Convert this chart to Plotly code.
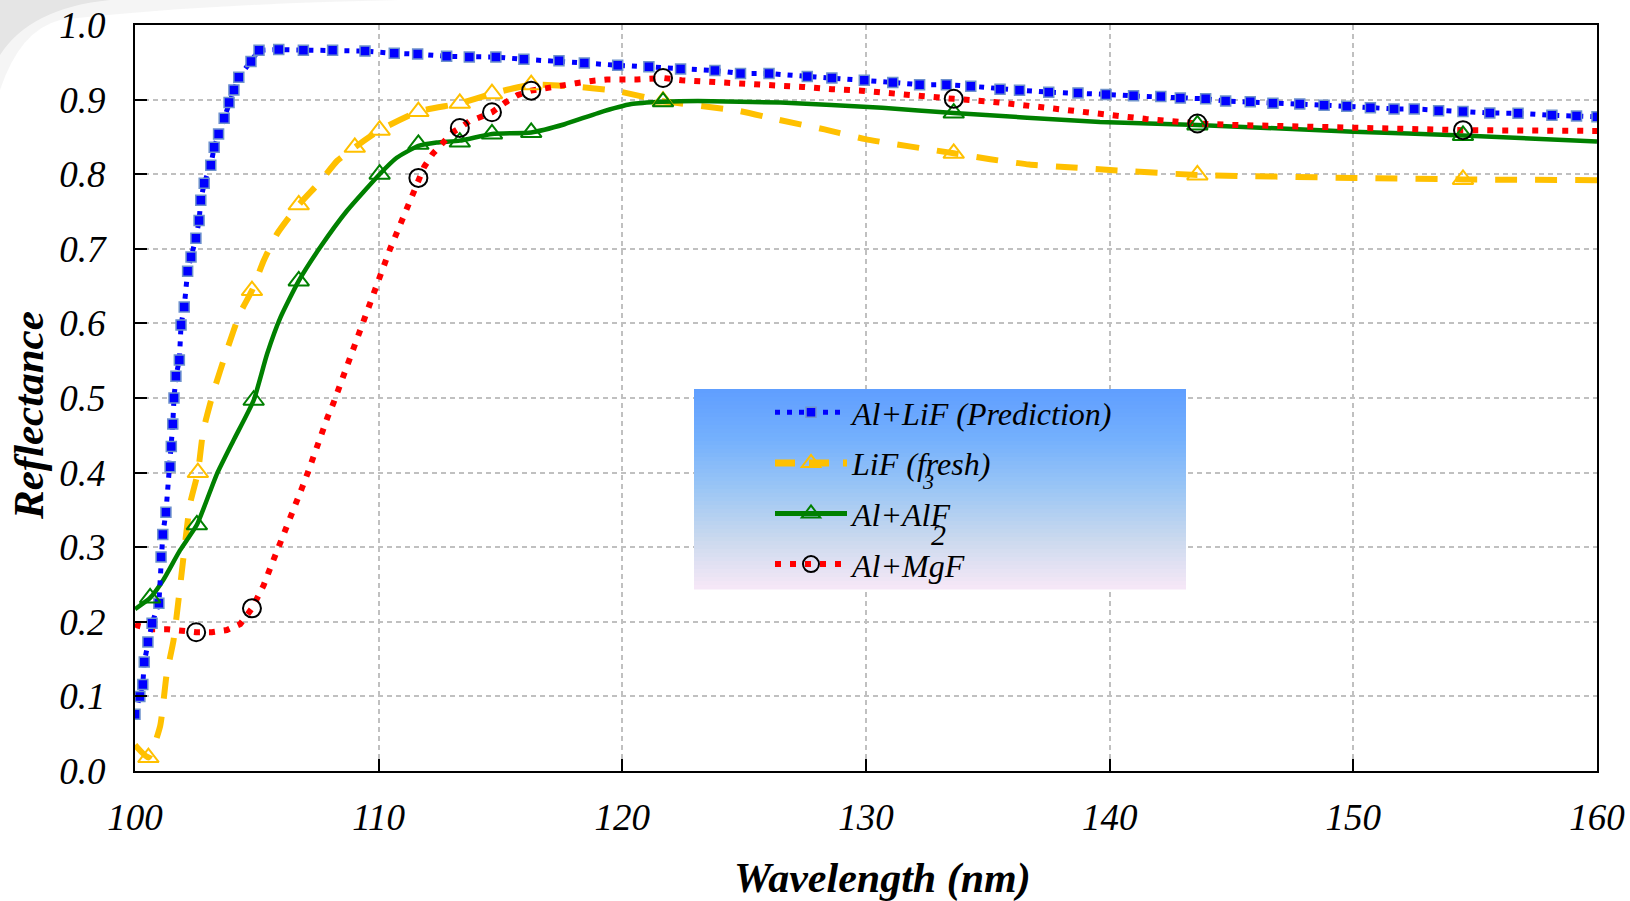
import plotly.graph_objects as go

# ---------------- data ----------------
pred_x = [100.0, 100.2, 100.32, 100.38, 100.53, 100.70, 100.98, 101.07, 101.14, 101.27, 101.44, 101.49,
          101.55, 101.60, 101.68, 101.82, 101.89, 102.02, 102.16, 102.30, 102.50, 102.63, 102.70, 102.84,
          103.11, 103.25, 103.43, 103.66, 103.86, 104.06, 104.26, 104.76, 105.09, 105.90, 106.91, 108.11,
          109.44, 110.64, 111.60, 112.79, 113.72, 114.81, 115.96, 117.40, 118.44, 119.81, 121.09, 122.39,
          123.80, 124.85, 126.02, 127.59, 128.60, 129.93, 131.1, 132.2, 133.3, 134.3, 135.5, 136.3, 137.5,
          138.7, 139.85, 140.98, 142.1, 142.9, 143.94, 144.76, 145.77, 146.7, 147.8, 148.8, 149.73, 150.7,
          151.67, 152.5, 153.5, 154.5, 155.6, 156.76, 158.15, 159.16, 160.0]
pred_y = [0.076, 0.100, 0.116, 0.146, 0.173, 0.198, 0.225, 0.287, 0.317, 0.347, 0.408, 0.435,
          0.465, 0.500, 0.529, 0.551, 0.598, 0.622, 0.670, 0.689, 0.714, 0.738, 0.765, 0.788,
          0.812, 0.836, 0.854, 0.875, 0.896, 0.913, 0.930, 0.951, 0.966, 0.967, 0.966, 0.966,
          0.965, 0.962, 0.961, 0.958, 0.957, 0.957, 0.954, 0.952, 0.949, 0.946, 0.944, 0.941,
          0.939, 0.935, 0.935, 0.931, 0.929, 0.926, 0.923, 0.920, 0.920, 0.918, 0.914, 0.9125, 0.910,
          0.909, 0.907, 0.905, 0.904, 0.902, 0.901, 0.898, 0.897, 0.895, 0.894, 0.8925, 0.891, 0.889,
          0.8875, 0.8875, 0.885, 0.884, 0.882, 0.8817, 0.879, 0.878, 0.877]

lif_x = [100.0, 100.55, 101.03, 101.3, 101.58, 101.85, 102.26, 102.58, 102.8, 103.2, 103.77, 104.3,
         104.8, 105.28, 105.83, 106.72, 107.6, 108.3, 109.02, 110.04, 111.63, 113.33, 114.65, 116.26,
         117.8, 119.7, 121.67, 124.76, 126.4, 128.3, 129.97, 133.6, 135.1, 136.7, 138.5, 140.3, 143.6,
         150.0, 154.5, 160.0]
lif_y = [0.035, 0.018, 0.060, 0.130, 0.175, 0.247, 0.358, 0.400, 0.456, 0.506, 0.564, 0.613,
         0.644, 0.684, 0.720, 0.759, 0.790, 0.818, 0.836, 0.859, 0.884, 0.895, 0.908, 0.920,
         0.918, 0.912, 0.898, 0.885, 0.873, 0.860, 0.847, 0.828, 0.820, 0.813, 0.809, 0.805, 0.799,
         0.795, 0.793, 0.792]
lif_mx = [100.55, 102.58, 104.8, 106.72, 109.02, 110.04, 111.63, 113.33, 114.65, 116.26, 121.67, 133.6, 143.6, 154.5]
lif_my = [0.018, 0.400, 0.644, 0.759, 0.836, 0.859, 0.884, 0.895, 0.908, 0.920, 0.898, 0.828, 0.799, 0.793]

alf_x = [100.0, 100.62, 101.16, 101.85, 102.54, 103.36, 104.04, 104.87, 105.42, 105.97, 106.72, 107.6,
         108.7, 110.04, 110.74, 111.63, 112.38, 113.33, 114.65, 116.26, 117.63, 119.0, 120.37, 121.67,
         123.1, 126.5, 130.66, 133.6, 139.6, 143.6, 150.0, 154.5, 160.0]
alf_y = [0.217, 0.232, 0.256, 0.296, 0.330, 0.398, 0.443, 0.497, 0.559, 0.608, 0.657, 0.702,
         0.751, 0.800, 0.822, 0.838, 0.8425, 0.845, 0.854, 0.856, 0.867, 0.882, 0.894, 0.897,
         0.898, 0.896, 0.889, 0.882, 0.870, 0.866, 0.857, 0.852, 0.844]
alf_mx = [100.62, 102.54, 104.87, 106.72, 110.04, 111.63, 113.33, 114.65, 116.26, 121.67, 133.6, 143.6, 154.5]
alf_my = [0.232, 0.330, 0.497, 0.657, 0.800, 0.840, 0.843, 0.854, 0.856, 0.897, 0.882, 0.866, 0.852]

mgf_x = [100.0, 100.1, 100.71, 101.34, 102.51, 103.15, 103.77, 104.32, 104.8, 105.0, 105.28, 105.49,
         105.73, 105.97, 106.17, 106.41, 106.63, 106.86, 107.07, 107.27, 107.5, 107.68, 107.9, 108.13,
         108.34, 108.55, 108.78, 108.98, 109.19, 109.42, 109.63, 109.84, 110.04, 110.26, 110.47, 110.7,
         110.93, 111.15, 111.39, 111.63, 111.87, 112.21, 112.62, 113.03, 113.33, 113.72, 114.13, 114.65,
         115.19, 115.7, 116.26, 116.9, 117.5, 118.1, 118.75, 119.37, 120.6, 121.67, 122.43, 123.7,
         124.9, 126.1, 127.4, 128.6, 129.8, 133.6, 135.2, 137.7, 140.1, 141.5, 143.6, 145.1, 154.5, 160.0]
mgf_y = [0.197, 0.195, 0.190, 0.190, 0.186, 0.186, 0.189, 0.197, 0.218, 0.230, 0.249, 0.267,
         0.286, 0.305, 0.323, 0.341, 0.360, 0.380, 0.398, 0.417, 0.435, 0.456, 0.474, 0.492,
         0.511, 0.530, 0.549, 0.568, 0.587, 0.606, 0.625, 0.643, 0.662, 0.680, 0.700, 0.718,
         0.736, 0.755, 0.774, 0.795, 0.810, 0.827, 0.843, 0.856, 0.862, 0.871, 0.876, 0.883,
         0.896, 0.906, 0.912, 0.916, 0.919, 0.922, 0.925, 0.927, 0.927, 0.929, 0.926, 0.924,
         0.922, 0.920, 0.917, 0.914, 0.912, 0.901, 0.897, 0.888, 0.879, 0.874, 0.868, 0.866, 0.859, 0.858]
mgf_mx = [102.51, 104.8, 111.63, 113.33, 114.65, 116.26, 121.67, 133.6, 143.6, 154.5]
mgf_my = [0.186, 0.218, 0.795, 0.862, 0.883, 0.912, 0.929, 0.901, 0.868, 0.859]

x_ticks = [100, 110, 120, 130, 140, 150, 160]
y_ticks = [0.0, 0.1, 0.2, 0.3, 0.4, 0.5, 0.6, 0.7, 0.8, 0.9, 1.0]

names = ["Al+LiF (Prediction)", "LiF (fresh)", "Al+AlF", "Al+MgF"]

# ---------------- styles ----------------
BLUE, GOLD, GREEN, RED = "#0000FF", "#FFC000", "#008000", "#FF0000"
SERIF = "Liberation Serif"
W, H = 1630, 901
L, R, T, B = 135, 33, 25, 130


def pxx(px):
    return (px - L) / (W - L - R)


def pxy(py):
    return (H - B - py) / (H - T - B)


fig = go.Figure()

blue_line = dict(color=BLUE, width=5, dash="5px,7px")
blue_marker = dict(symbol="square", size=10, color=BLUE, line=dict(color="#6F93CC", width=1.5))
gold_line = dict(color=GOLD, width=6, dash="22px,18px", shape="spline", smoothing=0.5)
gold_marker = dict(symbol="triangle-up-open", size=18, color=GOLD, line=dict(color=GOLD, width=2))
green_line = dict(color=GREEN, width=4.5, shape="spline", smoothing=0.5)
green_marker = dict(symbol="triangle-up-open", size=18, color=GREEN, line=dict(color=GREEN, width=2))
red_line = dict(color=RED, width=6, dash="6px,9px")
red_marker = dict(symbol="circle-open", size=18, color="black", line=dict(color="black", width=2))

# lines
fig.add_trace(go.Scatter(x=lif_x, y=lif_y, mode="lines", line=gold_line, showlegend=False, hoverinfo="skip"))
fig.add_trace(go.Scatter(x=alf_x, y=alf_y, mode="lines", line=green_line, showlegend=False, hoverinfo="skip"))
fig.add_trace(go.Scatter(x=mgf_x, y=mgf_y, mode="lines", line=red_line, showlegend=False, hoverinfo="skip"))
fig.add_trace(go.Scatter(x=pred_x, y=pred_y, mode="lines+markers", line=blue_line, marker=blue_marker,
                         showlegend=False))
# markers
fig.add_trace(go.Scatter(x=lif_mx, y=lif_my, mode="markers", marker=gold_marker, showlegend=False))
fig.add_trace(go.Scatter(x=alf_mx, y=alf_my, mode="markers", marker=green_marker, showlegend=False))
fig.add_trace(go.Scatter(x=mgf_mx, y=mgf_my, mode="markers", marker=red_marker, showlegend=False))

# legend entries
leg_styles = [
    (dict(color=BLUE, width=5, dash="5px,7px"), blue_marker),
    (dict(color=GOLD, width=7, dash="20px,14px"), gold_marker),
    (dict(color=GREEN, width=5), green_marker),
    (dict(color=RED, width=6, dash="6px,9px"), red_marker),
]
for i, (nm, (ln, mk)) in enumerate(zip(names, leg_styles)):
    fig.add_trace(go.Scatter(x=[None], y=[None], mode="lines+markers", name=nm, line=ln, marker=mk,
                             legendgroup=f"g{i}"))

# legend gradient box
stops = [(0.0, (95, 158, 255)), (0.25, (116, 176, 253)), (0.5, (155, 198, 245)),
         (0.75, (202, 217, 238)), (1.0, (247, 232, 247))]


def grad(t):
    for (t0, c0), (t1, c1) in zip(stops[:-1], stops[1:]):
        if t <= t1:
            f = (t - t0) / (t1 - t0)
            return tuple(int(round(a + (b - a) * f)) for a, b in zip(c0, c1))
    return stops[-1][1]


box_l, box_r, box_t, box_b = 694, 1186, 389, 589
n = 50
shapes = []
# faint grey swoosh in the top-left corner of the page
shapes.append(dict(type="path", xref="paper", yref="paper",
                   path=f"M {pxx(0)},{pxy(0)} L {pxx(110)},{pxy(0)} Q {pxx(30)},{pxy(8)} {pxx(0)},{pxy(55)} Z",
                   fillcolor="rgba(200,200,200,0.45)", line=dict(width=0), layer="below"))
shapes.append(dict(type="path", xref="paper", yref="paper",
                   path=f"M {pxx(0)},{pxy(0)} L {pxx(400)},{pxy(0)} Q {pxx(200)},{pxy(4)} {pxx(60)},{pxy(20)} Q {pxx(20)},{pxy(30)} {pxx(0)},{pxy(90)} Z",
                   fillcolor="rgba(225,225,225,0.35)", line=dict(width=0), layer="below"))
for k in range(n):
    y0 = box_t + (box_b - box_t) * k / n
    y1 = box_t + (box_b - box_t) * (k + 1) / n + 0.6
    c = grad((k + 0.5) / n)
    shapes.append(dict(type="rect", xref="paper", yref="paper", x0=pxx(box_l), x1=pxx(box_r),
                       y0=pxy(y1), y1=pxy(y0), line=dict(width=0),
                       fillcolor=f"rgb({c[0]},{c[1]},{c[2]})", layer="above"))

annotations = [
    dict(text="Wavelength (nm)", xref="paper", yref="paper", x=pxx(882), y=pxy(878), showarrow=False,
         font=dict(family=SERIF, size=42, style="italic", weight="bold", color="black"),
         xanchor="center", yanchor="middle"),
    dict(text="Reflectance", xref="paper", yref="paper", x=pxx(28), y=pxy(415), showarrow=False,
         textangle=-90, font=dict(family=SERIF, size=43, style="italic", weight="bold", color="black"),
         xanchor="center", yanchor="middle"),
    dict(text="3", xref="paper", yref="paper", x=pxx(928), y=pxy(481), showarrow=False,
         font=dict(family=SERIF, size=22, style="italic", color="black"), xanchor="center", yanchor="middle"),
    dict(text="2", xref="paper", yref="paper", x=pxx(938), y=pxy(534), showarrow=False,
         font=dict(family=SERIF, size=30, style="italic", color="black"), xanchor="center", yanchor="middle"),
]

axis_common = dict(showline=True, linecolor="black", linewidth=2, mirror=True, automargin=False,
                   ticks="inside", ticklen=12, tickwidth=2, tickcolor="black",
                   showgrid=True, gridcolor="#C0C0C0", gridwidth=1.5, griddash="5px,4px",
                   zeroline=False,
                   tickfont=dict(family=SERIF, size=37, style="italic", color="black"))

fig.update_layout(
    width=W, height=H,
    margin=dict(l=L, r=R, t=T, b=B, autoexpand=False),
    paper_bgcolor="white", plot_bgcolor="white",
    xaxis=dict(range=[100, 160], tickvals=x_ticks, ticktext=[str(v) for v in x_ticks],
               ticklabelstandoff=13, **axis_common),
    yaxis=dict(range=[0, 1.0], tickvals=y_ticks, ticktext=[f"{v:.1f}" for v in y_ticks],
               ticklabelstandoff=20, **axis_common),
    shapes=shapes,
    annotations=annotations,
    legend=dict(x=pxx(770), y=pxy(385), xanchor="left", yanchor="top", bgcolor="rgba(0,0,0,0)",
                borderwidth=0, itemwidth=72, tracegroupgap=6,
                font=dict(family=SERIF, size=32, style="italic", color="black")),
    showlegend=True,
)

fig.write_html("out.html")
